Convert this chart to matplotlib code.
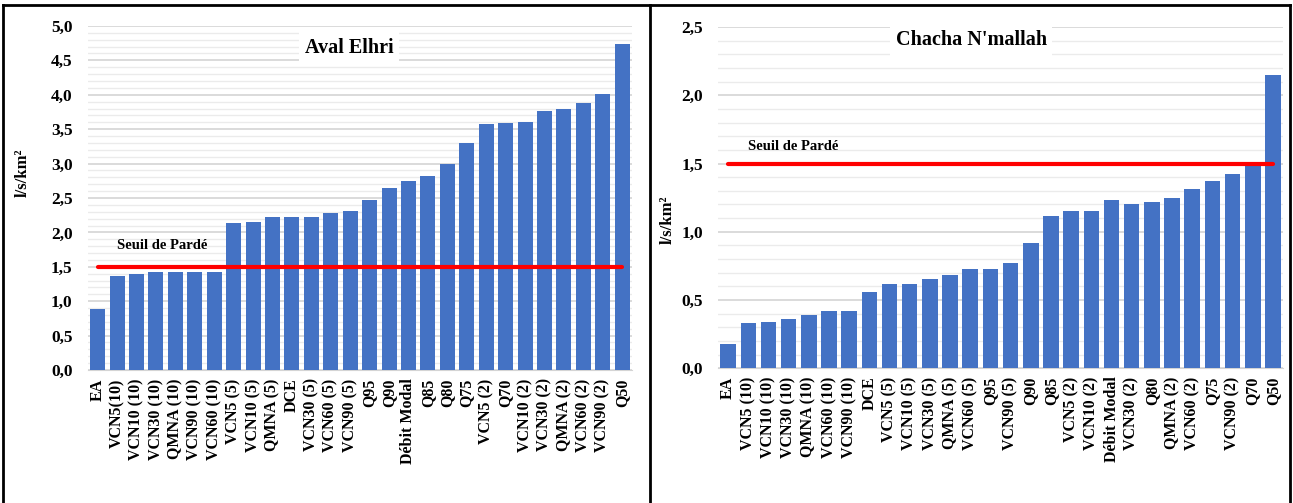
import matplotlib
matplotlib.use('Agg')
import matplotlib.pyplot as plt
from matplotlib.lines import Line2D

plt.rcParams['font.family'] = ['Liberation Serif', 'DejaVu Serif']
plt.rcParams['font.weight'] = 'bold'

# Aval Elhri
labels_a = ['EA', 'VCN5(10)', 'VCN10 (10)', 'VCN30 (10)', 'QMNA (10)', 'VCN90 (10)',
            'VCN60 (10)', 'VCN5 (5)', 'VCN10 (5)', 'QMNA (5)', 'DCE', 'VCN30 (5)',
            'VCN60 (5)', 'VCN90 (5)', 'Q95', 'Q90', 'Débit Modal', 'Q85', 'Q80', 'Q75',
            'VCN5 (2)', 'Q70', 'VCN10 (2)', 'VCN30 (2)', 'QMNA (2)', 'VCN60 (2)',
            'VCN90 (2)', 'Q50']
values_a = [0.89, 1.36, 1.39, 1.42, 1.42, 1.42, 1.43, 2.13, 2.15, 2.22, 2.22, 2.22,
            2.28, 2.31, 2.47, 2.64, 2.75, 2.82, 3.00, 3.30, 3.57, 3.59, 3.61, 3.76,
            3.79, 3.88, 4.01, 4.74]

# Chacha N'mallah
labels_b = ['EA', 'VCN5 (10)', 'VCN10 (10)', 'VCN30 (10)', 'QMNA (10)', 'VCN60 (10)',
            'VCN90 (10)', 'DCE', 'VCN5 (5)', 'VCN10 (5)', 'VCN30 (5)', 'QMNA (5)',
            'VCN60 (5)', 'Q95', 'VCN90 (5)', 'Q90', 'Q85', 'VCN5 (2)', 'VCN10 (2)',
            'Débit Modal', 'VCN30 (2)', 'Q80', 'QMNA (2)', 'VCN60 (2)', 'Q75',
            'VCN90 (2)', 'Q70', 'Q50']
values_b = [0.18, 0.33, 0.34, 0.36, 0.39, 0.42, 0.42, 0.56, 0.615, 0.62, 0.655, 0.68,
            0.725, 0.73, 0.77, 0.915, 1.115, 1.15, 1.155, 1.23, 1.205, 1.215, 1.25,
            1.31, 1.37, 1.42, 1.49, 2.15]

seuil = 1.5

fig = plt.figure(figsize=(12.93, 5.03), dpi=100)
ax1 = fig.add_axes([0.068, 0.2644, 0.4207, 0.684])
ax2 = fig.add_axes([0.5553, 0.268, 0.437, 0.678])


def draw(ax, labels, values, ymax, title, tpos, seuil_y, ylab_pos):
    x = range(len(labels))
    ax.bar(x, values, width=0.77, color='#4472C4', zorder=3)
    ax.plot([0, len(labels) - 1], [seuil, seuil], color='#FF0000', lw=3, zorder=4,
            solid_capstyle='round')
    ax.text(1.0, seuil_y, 'Seuil de Pardé', fontsize=10.5, fontweight='bold', zorder=5)
    ax.set_xlim(-0.5, len(labels) - 0.5)
    ax.set_ylim(0, ymax)
    ax.set_xticks(list(x))
    ax.set_xticklabels(labels, rotation=90, fontsize=11.5, fontweight='bold')
    n = int(ymax / 0.5) + 1
    ax.set_yticks([i * 0.5 for i in range(n)])
    ax.set_yticklabels([f'{i * 0.5:.1f}'.replace('.', ',') for i in range(n)],
                       fontsize=12.5, fontweight='bold')
    ax.set_yticks([i * 0.1 for i in range(int(round(ymax / 0.1)) + 1)], minor=True)
    ax.grid(axis='y', which='major', color='#d4d4d4', lw=1.2, zorder=0)
    ax.grid(axis='y', which='minor', color='#ebebeb', lw=1.0, zorder=0)
    ax.tick_params(which='both', length=0)
    ax.tick_params(axis='y', pad=11)
    ax.tick_params(axis='x', pad=6)
    for s in ['top', 'right', 'left']:
        ax.spines[s].set_visible(False)
    ax.spines['bottom'].set_color('#d4d4d4')
    ax.set_ylabel('l/s/km²', fontsize=12, fontweight='bold')
    ax.yaxis.set_label_coords(*ylab_pos)
    ax.text(tpos[0], tpos[1], title, transform=ax.transAxes, ha='center', va='center',
            fontsize=14.5, fontweight='bold', zorder=6,
            bbox=dict(facecolor='white', edgecolor='none', pad=4))


draw(ax1, labels_a, values_a, 5.0, 'Aval Elhri', (0.48, 0.936), 1.76, (-0.105, 0.573))
draw(ax2, labels_b, values_b, 2.5, "Chacha N'mallah", (0.448, 0.962), 1.6, (-0.074, 0.434))

# panel borders
W, H = 1293, 503
for xs, ys in [([3, 1290], [5, 5]), ([3, 3], [5, 503]), ([650, 650], [5, 503]),
               ([1290, 1290], [5, 503])]:
    fig.add_artist(Line2D([v / W for v in xs], [1 - v / H for v in ys],
                          color='black', lw=2, transform=fig.transFigure))

fig.savefig('out.png', dpi=100)
